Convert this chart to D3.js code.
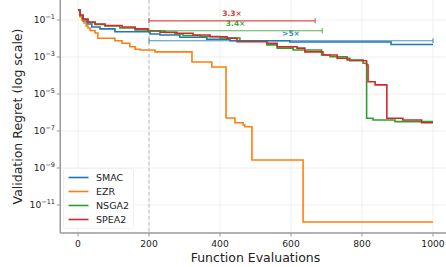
<!DOCTYPE html>
<html><head><meta charset="utf-8">
<script src="https://cdn.jsdelivr.net/npm/d3@7"></script>
<style>html,body{margin:0;padding:0;background:#fff;overflow:hidden}svg{display:block;font-family:"DejaVu Sans",sans-serif}</style>
</head><body>
<script>
// ---- data ----
const seriesNames = ["SMAC", "EZR", "NSGA2", "SPEA2"];
const seriesColors = ["#1f77b4", "#ff7f0e", "#2ca02c", "#d62728"];

const smacEvals = [0, 6, 14, 25, 39, 62, 104, 203, 231, 287, 363, 428, 597, 882, 1000];
const smacValues = [0.35, 0.164, 0.088, 0.061, 0.042, 0.033, 0.0233, 0.0175, 0.0155, 0.0116, 0.0091, 0.0076, 0.0065, 0.0047, 0.0047];

const ezrEvals = [0, 6, 11, 17, 23, 28, 34, 48, 56, 104, 124, 146, 161, 175, 217, 321, 377, 417, 442, 465, 470, 490, 634, 1000];
const ezrValues = [0.35, 0.145, 0.1, 0.069, 0.047, 0.037, 0.027, 0.0198, 0.0103, 0.0076, 0.0055, 0.0036, 0.0026, 0.0024, 0.0019, 0.00054, 0.00029, 5.0e-7, 2.8e-7, 2.1e-7, 1.7e-7, 2.7e-9, 1.2e-12, 1.2e-12];

const nsga2Evals = [0, 6, 14, 28, 48, 76, 118, 161, 197, 245, 273, 296, 344, 400, 456, 532, 561, 606, 686, 710, 758, 766, 803, 813, 831, 893, 1000];
const nsga2Values = [0.35, 0.175, 0.106, 0.073, 0.057, 0.047, 0.037, 0.0288, 0.0254, 0.0211, 0.0175, 0.0145, 0.0128, 0.0106, 0.0073, 0.0045, 0.0030, 0.0024, 0.00128, 0.00104, 0.00085, 0.00063, 0.00046, 4.9e-7, 3.9e-7, 3.2e-7, 3.2e-7];

const spea2Evals = [0, 6, 14, 28, 48, 76, 124, 161, 197, 231, 279, 324, 372, 420, 448, 532, 561, 617, 639, 690, 730, 758, 803, 813, 817, 837, 870, 915, 968, 1000];
const spea2Values = [0.35, 0.186, 0.113, 0.078, 0.061, 0.050, 0.042, 0.033, 0.0264, 0.0216, 0.0191, 0.0155, 0.0125, 0.0103, 0.0067, 0.0055, 0.0036, 0.0030, 0.0019, 0.00128, 0.00085, 0.00069, 0.00063, 0.00037, 4.6e-5, 3.1e-5, 4.9e-7, 3.9e-7, 2.8e-7, 2.8e-7];

// speed-up annotations
const arrowLabels = ["3.3×", "3.4×", ">5×"];
const arrowEnds = [668, 688, 1000];
const arrowLevels = [0.09, 0.026, 0.0076];
const arrowColorIdx = [3, 2, 0];
const budgetEval = 200;

const xTicks = [0, 200, 400, 600, 800, 1000];
const yTickExps = [-1, -3, -5, -7, -9, -11];

// ---- drawing ----
(function () {
const W = 446, H = 267;
const svg = d3.select("body").append("svg").attr("width", W).attr("height", H);

const x = d3.scaleLinear().domain([0, 1000]).range([78, 433]);
const y = d3.scaleLog().domain([Math.pow(10, 0.081), Math.pow(10, -12.514)]).range([0, 233]);
const pLeft = x(-50), pRight = x(1050), pTop = 0, pBottom = 233;

// grid
const grid = svg.append("g");
xTicks.forEach(t => grid.append("line").attr("x1", x(t)).attr("x2", x(t)).attr("y1", pTop).attr("y2", pBottom)
  .attr("stroke", "#ebebeb").attr("stroke-width", 0.8));
yTickExps.forEach(e => grid.append("line").attr("x1", pLeft).attr("x2", pRight).attr("y1", y(Math.pow(10, e))).attr("y2", y(Math.pow(10, e)))
  .attr("stroke", "#ebebeb").attr("stroke-width", 0.8));

// budget line
svg.append("line").attr("x1", x(budgetEval)).attr("x2", x(budgetEval)).attr("y1", pTop).attr("y2", pBottom)
  .attr("stroke", "#bbbbbb").attr("stroke-width", 1).attr("stroke-dasharray", "3.5,2.5");

// series
const allEvals = [smacEvals, ezrEvals, nsga2Evals, spea2Evals];
const allValues = [smacValues, ezrValues, nsga2Values, spea2Values];
const line = d3.line().x(d => x(d[0])).y(d => y(d[1])).curve(d3.curveStepAfter);
allEvals.forEach((ev, i) => {
  const pts = ev.map((e, j) => [e, allValues[i][j]]);
  svg.append("path").attr("d", line(pts)).attr("fill", "none").attr("stroke", seriesColors[i])
    .attr("stroke-width", 1.6).attr("stroke-linejoin", "miter");
});

// arrows
arrowLabels.forEach((lab, i) => {
  const c = seriesColors[arrowColorIdx[i]];
  const yy = y(arrowLevels[i]);
  const x1 = x(budgetEval), x2 = x(arrowEnds[i]);
  const g = svg.append("g").attr("opacity", 0.8);
  g.append("line").attr("x1", x1).attr("x2", x2).attr("y1", yy).attr("y2", yy).attr("stroke", c).attr("stroke-width", 1.1);
  [x1, x2].forEach(xx => g.append("line").attr("x1", xx).attr("x2", xx).attr("y1", yy - 2.5).attr("y2", yy + 2.5)
    .attr("stroke", c).attr("stroke-width", 1.1));
  svg.append("text").attr("x", (x1 + x2) / 2).attr("y", yy - 5).attr("text-anchor", "middle")
    .attr("font-size", 7.5).attr("font-weight", "bold").attr("fill", c).attr("opacity", 0.9).text(lab);
});

// spines
svg.append("line").attr("x1", pLeft).attr("x2", pLeft).attr("y1", pTop).attr("y2", pBottom).attr("stroke", "#999").attr("stroke-width", 1.5);
svg.append("line").attr("x1", pLeft).attr("x2", pRight).attr("y1", pBottom).attr("y2", pBottom).attr("stroke", "#999").attr("stroke-width", 1.5);

// x ticks
xTicks.forEach(t => {
  svg.append("line").attr("x1", x(t)).attr("x2", x(t)).attr("y1", pBottom).attr("y2", pBottom + 3.5).attr("stroke", "#999").attr("stroke-width", 1);
  svg.append("text").attr("x", x(t)).attr("y", 246.5).attr("text-anchor", "middle").attr("font-size", 9.2).attr("fill", "#222").text(t);
});
// y ticks
yTickExps.forEach(e => {
  const yy = y(Math.pow(10, e));
  svg.append("line").attr("x1", pLeft - 3.5).attr("x2", pLeft).attr("y1", yy).attr("y2", yy).attr("stroke", "#999").attr("stroke-width", 1);
  const t = svg.append("text").attr("x", 55).attr("y", yy + 3.3).attr("text-anchor", "end").attr("font-size", 9.2).attr("fill", "#222");
  t.append("tspan").text("10");
  t.append("tspan").attr("dy", -4).attr("font-size", 6.5).text("\u2212" + Math.abs(e));
});

// axis labels
svg.append("text").attr("x", (pLeft + pRight) / 2).attr("y", 262).attr("text-anchor", "middle").attr("font-size", 12.5).attr("fill", "#222").text("Function Evaluations");
svg.append("text").attr("transform", `translate(21.5,${(pTop + pBottom) / 2}) rotate(-90)`).attr("text-anchor", "middle")
  .attr("font-size", 12.5).attr("fill", "#222").text("Validation Regret (log scale)");

// legend
const lg = svg.append("g");
lg.append("rect").attr("x", 63.5).attr("y", 168.5).attr("width", 70).attr("height", 60).attr("rx", 2)
  .attr("fill", "#fff").attr("fill-opacity", 0.85).attr("stroke", "#eee").attr("stroke-width", 0.8);
seriesNames.forEach((n, i) => {
  const yy = 177.5 + i * 14;
  lg.append("line").attr("x1", 68.5).attr("x2", 88.5).attr("y1", yy).attr("y2", yy).attr("stroke", seriesColors[i]).attr("stroke-width", 1.6);
  lg.append("text").attr("x", 96).attr("y", yy + 3.4).attr("font-size", 9.5).attr("fill", "#222").text(n);
});
})();
</script>
</body></html>
